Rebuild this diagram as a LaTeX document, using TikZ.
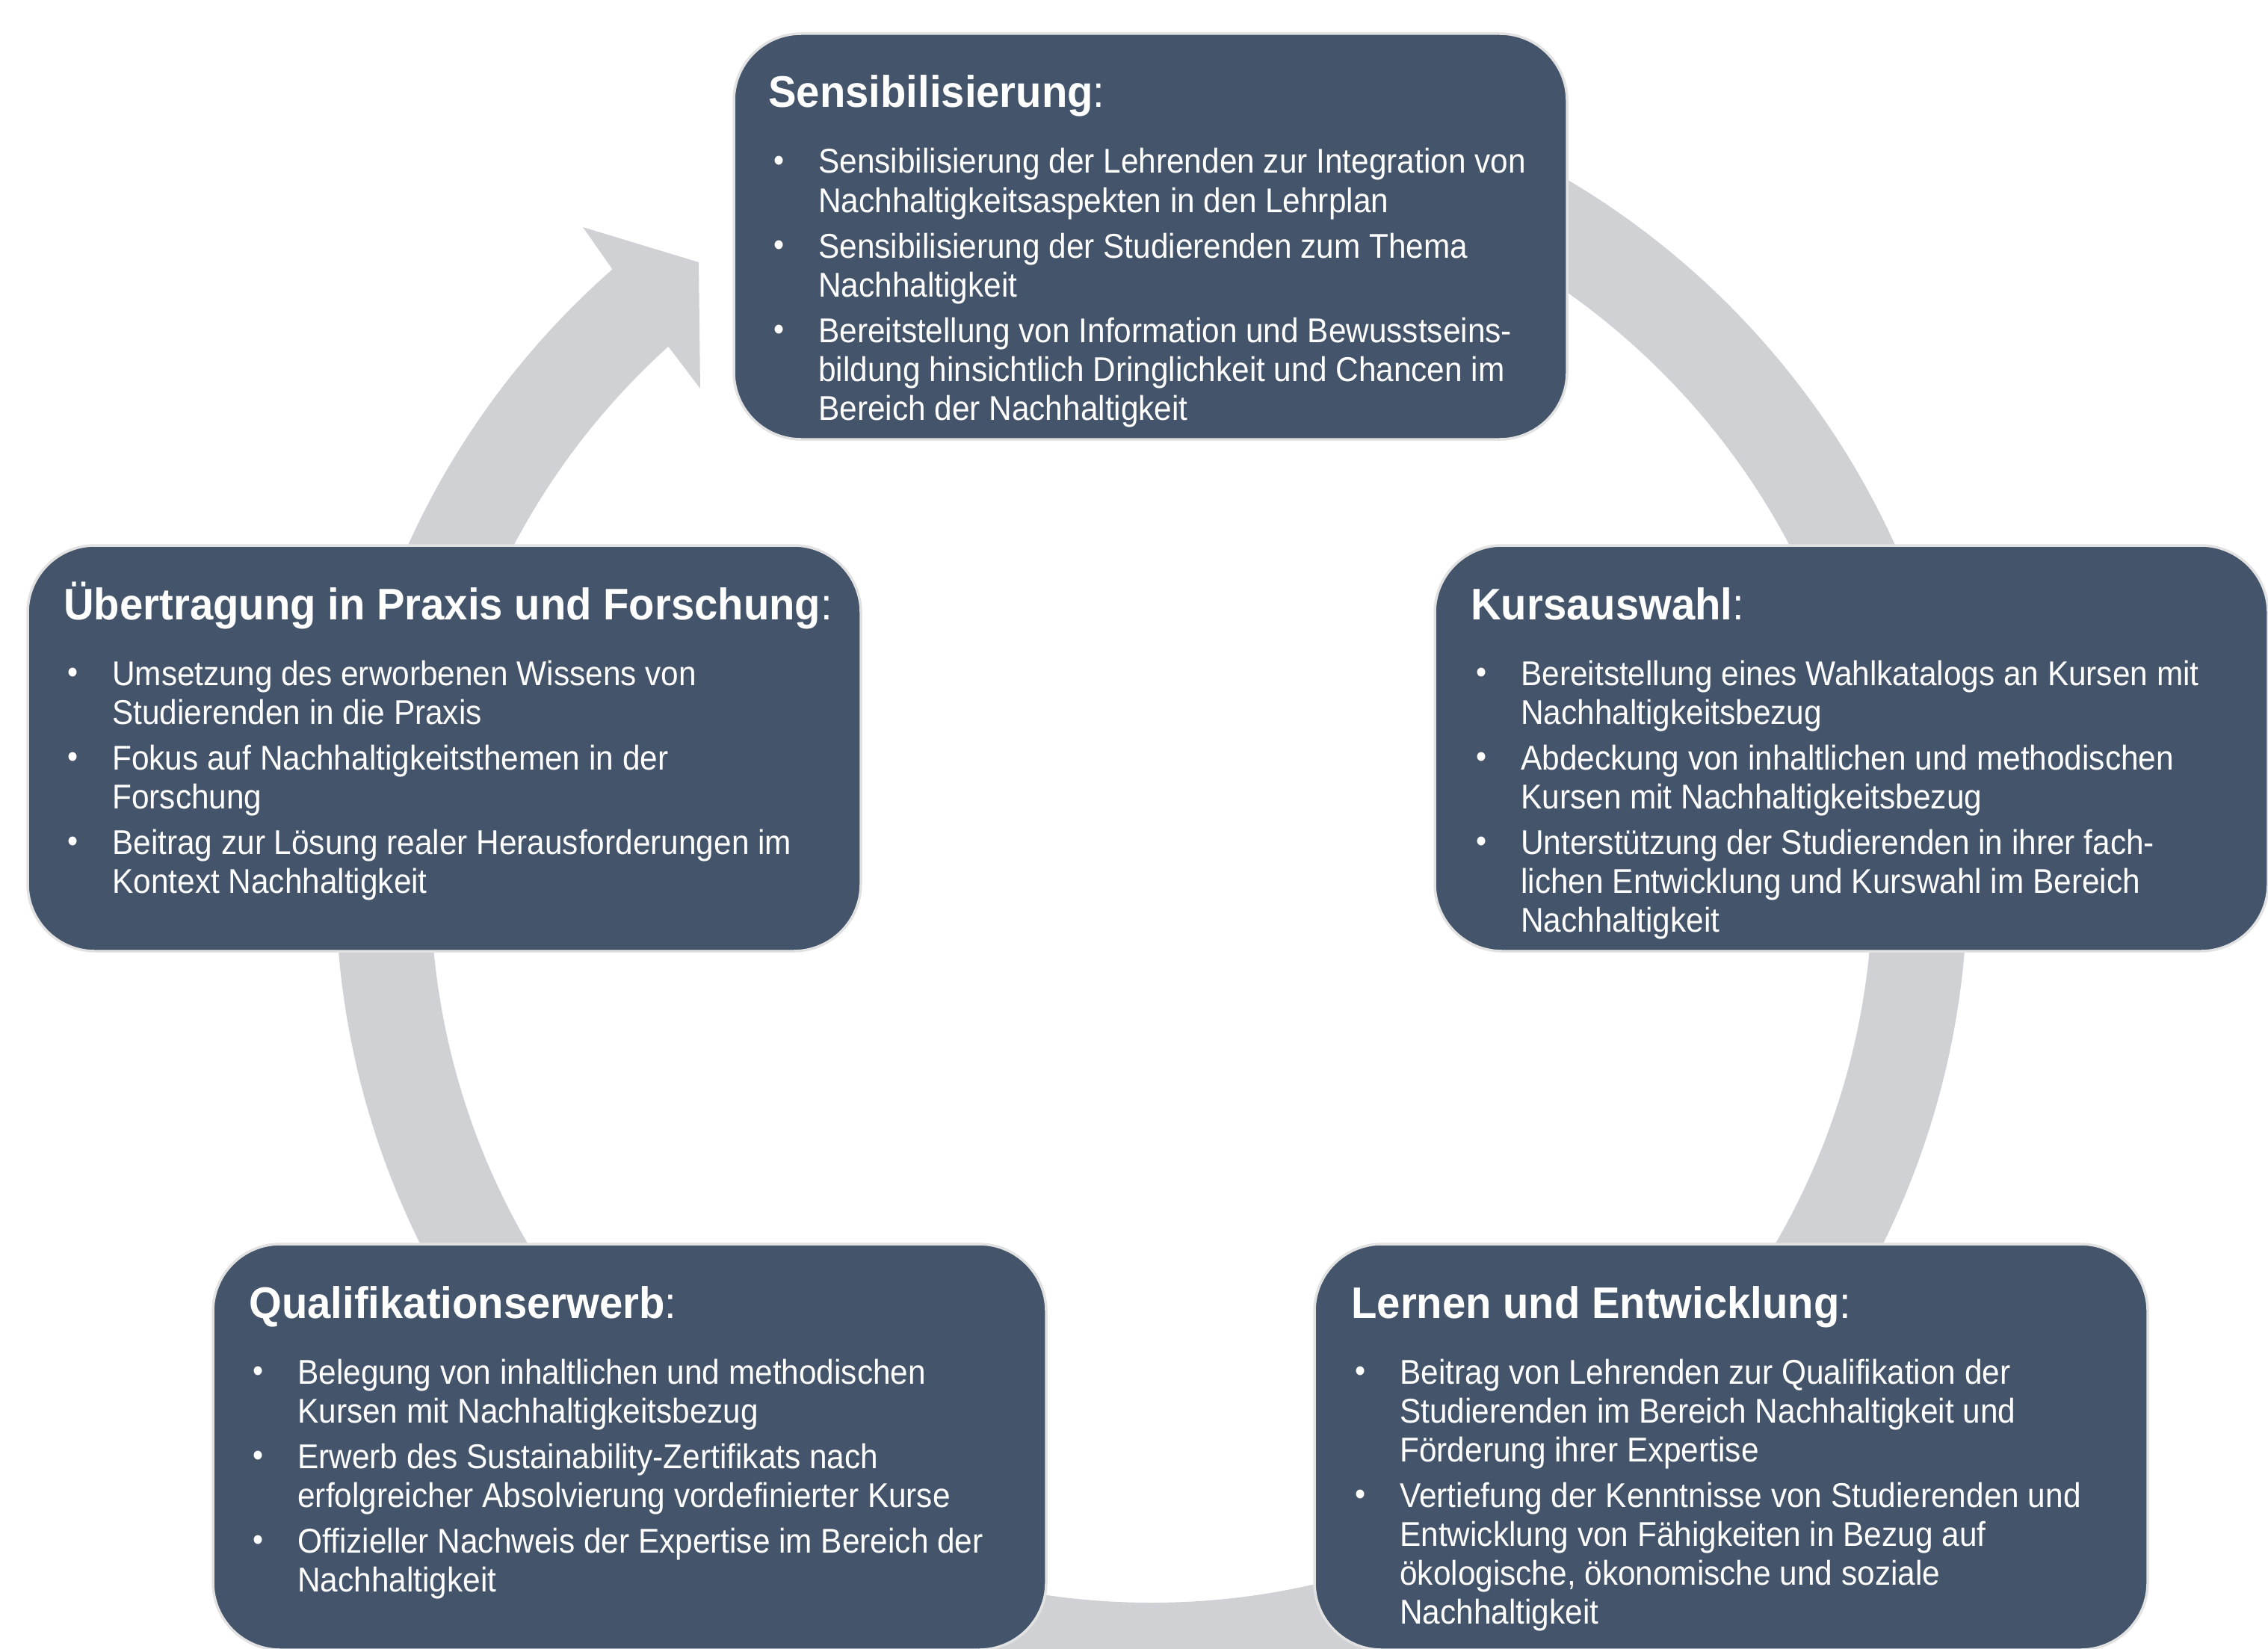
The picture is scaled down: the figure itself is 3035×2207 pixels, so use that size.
\documentclass[tikz,border=0pt]{standalone}
\usepackage{fontspec}
\setmainfont{Liberation Sans}[FakeStretch=0.92]
\newfontfamily\headfont{Liberation Sans}[FakeStretch=0.95]
\usetikzlibrary{calc}

\definecolor{boxfill}{HTML}{44546A}
\definecolor{boxrim}{HTML}{E2E2E2}
\definecolor{ringgray}{HTML}{D0D1D5}

\newcommand\dotmark{\raisebox{0.06em}{\scalebox{0.95}{\textbullet}}}
\newenvironment{pointlist}{\begin{tabular}[t]{@{}p{12mm}@{}l@{}}}{\end{tabular}}

\tikzset{
  stagebox/.style={fill=boxfill, draw=boxrim, line width=0.7mm, rounded corners=18mm,
    minimum width=223mm, minimum height=108.6mm, inner sep=0pt, outer sep=0pt, anchor=north west},
  stagetitle/.style={text=white, inner sep=0pt, anchor=base west,
    font={\headfont\fontsize{33.7pt}{38pt}\selectfont\bfseries}},
  stagebody/.style={text=white, inner sep=0pt, anchor=base west,
    font={\fontsize{26.2pt}{29.6pt}\selectfont}},
}

\begin{document}
\begin{tikzpicture}[x=0.2mm, y=-0.2mm]
\useasboundingbox (0,0) rectangle (3035,2207);

% circular arrow behind the stages
\coordinate (hub) at (1541,1180);
\fill[ringgray] ($(hub)+(228.64:1092)$) arc[start angle=228.64, end angle=-90, radius=1092]
  -- ($(hub)+(-90:965)$) arc[start angle=-90, end angle=227.9, radius=965]
  -- (896,466) -- (937,520) -- (935,351) -- (780,304) -- cycle;

% stage boxes
\node[stagebox] (sens) at (982,45) {};
\node[stagebox] (kurs) at (1920,730) {};
\node[stagebox] (prax) at (37,730) {};
\node[stagebox] (qual) at (285,1665) {};
\node[stagebox] (lern) at (1759,1665) {};

% Sensibilisierung
\node[stagetitle] (senstitle) at ($(sens.north west)+(46,99)$) {Sensibilisierung{\mdseries:}};
\node[stagebody] (sensbody) at ($(sens.north west)+(53,187)$) {\begin{pointlist}
\dotmark & Sensibilisierung der Lehrenden zur Integration von\\
 & Nachhaltigkeitsaspekten in den Lehrplan\\[1.8mm]
\dotmark & Sensibilisierung der Studierenden zum Thema\\
 & Nachhaltigkeit\\[1.8mm]
\dotmark & Bereitstellung von Information und Bewusstseins-\\
 & bildung hinsichtlich Dringlichkeit und Chancen im\\
 & Bereich der Nachhaltigkeit
\end{pointlist}};

% Kursauswahl
\node[stagetitle] (kurstitle) at ($(kurs.north west)+(48,99)$) {Kursauswahl{\mdseries:}};
\node[stagebody] (kursbody) at ($(kurs.north west)+(55,187)$) {\begin{pointlist}
\dotmark & Bereitstellung eines Wahlkatalogs an Kursen mit\\
 & Nachhaltigkeitsbezug\\[1.8mm]
\dotmark & Abdeckung von inhaltlichen und methodischen\\
 & Kursen mit Nachhaltigkeitsbezug\\[1.8mm]
\dotmark & Unterstützung der Studierenden in ihrer fach-\\
 & lichen Entwicklung und Kurswahl im Bereich\\
 & Nachhaltigkeit
\end{pointlist}};

% Übertragung in Praxis und Forschung
\node[stagetitle] (praxtitle) at ($(prax.north west)+(48,99)$) {Übertragung in Praxis und Forschung{\mdseries:}};
\node[stagebody] (praxbody) at ($(prax.north west)+(53,187)$) {\begin{pointlist}
\dotmark & Umsetzung des erworbenen Wissens von\\
 & Studierenden in die Praxis\\[1.8mm]
\dotmark & Fokus auf Nachhaltigkeitsthemen in der\\
 & Forschung\\[1.8mm]
\dotmark & Beitrag zur Lösung realer Herausforderungen im\\
 & Kontext Nachhaltigkeit
\end{pointlist}};

% Qualifikationserwerb
\node[stagetitle] (qualtitle) at ($(qual.north west)+(48,99)$) {Qualifikationserwerb{\mdseries:}};
\node[stagebody] (qualbody) at ($(qual.north west)+(53,187)$) {\begin{pointlist}
\dotmark & Belegung von inhaltlichen und methodischen\\
 & Kursen mit Nachhaltigkeitsbezug\\[1.8mm]
\dotmark & Erwerb des Sustainability-Zertifikats nach\\
 & erfolgreicher Absolvierung vordefinierter Kurse\\[1.8mm]
\dotmark & Offizieller Nachweis der Expertise im Bereich der\\
 & Nachhaltigkeit
\end{pointlist}};

% Lernen und Entwicklung
\node[stagetitle] (lerntitle) at ($(lern.north west)+(49,99)$) {Lernen und Entwicklung{\mdseries:}};
\node[stagebody] (lernbody) at ($(lern.north west)+(54,187)$) {\begin{pointlist}
\dotmark & Beitrag von Lehrenden zur Qualifikation der\\
 & Studierenden im Bereich Nachhaltigkeit und\\
 & Förderung ihrer Expertise\\[1.8mm]
\dotmark & Vertiefung der Kenntnisse von Studierenden und\\
 & Entwicklung von Fähigkeiten in Bezug auf\\
 & ökologische, ökonomische und soziale\\
 & Nachhaltigkeit
\end{pointlist}};
\end{tikzpicture}
\end{document}
